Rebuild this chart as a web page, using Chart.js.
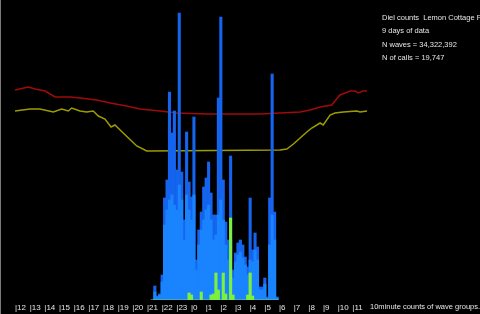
<!DOCTYPE html>
<html>
<head>
<meta charset="utf-8">
<script src="https://cdn.jsdelivr.net/npm/chart.js@4.4.1/dist/chart.umd.min.js"></script>
<style>
  html, body { margin: 0; padding: 0; background: #000; }
</style>
</head>
<body>
<canvas id="diel-chart" width="480" height="314"></canvas>
<script>
// hour ticks, one every 6 ten-minute bins, starting at noon
const hourLabels = ['|12', '|13', '|14', '|15', '|16', '|17', '|18', '|19', '|20', '|21', '|22', '|23',
                    '|0', '|1', '|2', '|3', '|4', '|5', '|6', '|7', '|8', '|9', '|10', '|11'];

// ten-minute bins with calls, bin 0 = 12:00
const firstBin = 56;
const darkBlue = [0, 14, 4, 6, 25, 102, 120, 208, 167, 189, 130, 287, 128, 80, 168, 118, 103, 183,
                  40, 70, 88, 113, 122, 138, 107, 85, 85, 202, 283, 120, 78, 60, 144, 30, 47, 57,
                  60, 55, 43, 33, 102, 50, 67, 53, 13, 13, 22, 3, 102, 226, 88, 3];
const lightBlue = [0, 8, 3, 5, 18, 75, 90, 100, 105, 95, 90, 115, 100, 60, 105, 90, 80, 105,
                   30, 55, 70, 80, 90, 95, 80, 60, 65, 85, 100, 80, 55, 40, 60, 22, 38, 45,
                   48, 42, 35, 25, 40, 38, 50, 40, 10, 10, 16, 2, 55, 85, 60, 2];
const green = [0, 0, 0, 0, 0, 0, 0, 0, 0, 0, 0, 0, 0, 0, 0, 7, 5, 0,
               0, 0, 8, 0, 0, 0, 5, 6, 27, 10, 0, 27, 6, 0, 82, 5, 0, 0,
               0, 0, 0, 5, 27, 4, 0, 0, 0, 0, 0, 0, 0, 0, 0, 0];

// background traces (bin position, value)
const redBins = [0, 5.4, 8.2, 12.3, 16.4, 22.5, 26.6, 33.4, 38.9, 45.7, 51.1, 59.3, 66.2, 78.4,
                 92.1, 100.2, 108.4, 116.6, 120.7, 124.8, 129.6, 132.9, 135, 137.1, 139.1, 140.5, 142.3, 144];
const redLine = [210, 213, 211, 209, 203, 203, 202, 200, 197, 194, 191, 189, 187, 186,
                 186, 186, 187, 188, 190, 193, 195, 205, 207, 209, 209, 207, 209, 209];
const yellowBins = [0, 6.1, 10.2, 15.7, 19.1, 21.8, 23.2, 26.6, 29.3, 32, 34.1, 36.8, 39.3, 40.9, 43,
                    46.4, 49.8, 53.9, 108.4, 111.2, 113.9, 118, 119.4, 121.4, 124.8, 126.1, 128.9,
                    130.9, 134.3, 139.8, 141.2, 144];
const yellowLine = [189, 191, 191, 188, 191, 189, 192, 189, 188, 189, 184, 181, 173, 175, 170,
                    162, 154, 149, 150, 151, 156, 165, 168, 172, 177, 175, 185,
                    187, 188, 189, 188, 189];

const infoLines = ['Diel counts  Lemon Cottage F', '9 days of data', 'N waves = 34,322,392', 'N of calls = 19,747'];
const footNote = '10minute counts of wave groups.';

const textFont = '"Liberation Sans", Arial, sans-serif';

// bars sit a little left of the bin start in the original
const toBars = arr => arr.map((v, k) => ({ x: firstBin + k + 0.2, y: v }));
const toLine = (xs, ys) => xs.map((x, i) => ({ x: x, y: ys[i] }));

const infoText = {
    id: 'infoText',
    afterDraw(chart) {
        const ctx = chart.ctx;
        ctx.save();
        ctx.fillStyle = '#e6e6e6';
        ctx.font = '7.5px ' + textFont;
        ctx.textBaseline = 'middle';
        infoLines.forEach((t, i) => ctx.fillText(t, 382, 18 + i * 13.4));
        ctx.fillText(footNote, 370, 307);
        ctx.strokeStyle = '#7a7a7a';
        ctx.lineWidth = 1;
        ctx.beginPath();
        ctx.moveTo(0.5, 0);
        ctx.lineTo(0.5, 314);
        ctx.stroke();
        ctx.restore();
    }
};

const ctx = document.getElementById('diel-chart');

new Chart(ctx, {
    type: 'bar',
    data: {
        datasets: [{
            type: 'bar',
            data: toBars(green),
            backgroundColor: '#7cf03c',
            grouped: false, barPercentage: 1, categoryPercentage: 1, borderWidth: 0,
            order: 0
        }, {
            type: 'bar',
            data: toBars(lightBlue),
            backgroundColor: '#1a84ff',
            grouped: false, barPercentage: 1, categoryPercentage: 1, borderWidth: 0,
            order: 1
        }, {
            type: 'bar',
            data: toBars(darkBlue),
            backgroundColor: '#1464ee',
            grouped: false, barPercentage: 1, categoryPercentage: 1, borderWidth: 0,
            order: 2
        }, {
            type: 'line',
            data: toLine(redBins, redLine),
            borderColor: '#a00a0a',
            borderWidth: 1.5,
            pointRadius: 0,
            yAxisID: 'yLine',
            order: 3
        }, {
            type: 'line',
            data: toLine(yellowBins, yellowLine),
            borderColor: '#9c9c00',
            borderWidth: 1.5,
            pointRadius: 0,
            yAxisID: 'yLine',
            order: 4
        }]
    },
    options: {
        responsive: false,
        animation: false,
        devicePixelRatio: 1,
        layout: { padding: { left: 15, right: 113, top: 0, bottom: 0 } },
        plugins: { legend: { display: false }, tooltip: { enabled: false } },
        scales: {
            x: {
                type: 'linear',
                offset: false,
                min: 0,
                max: 144,
                grid: { display: false, drawTicks: false },
                border: { display: false },
                afterBuildTicks: axis => { axis.ticks = hourLabels.map((_, i) => ({ value: i * 6 })); },
                afterFit: axis => { axis.height = 14; },
                ticks: {
                    autoSkip: false,
                    maxRotation: 0,
                    align: 'start',
                    padding: 3,
                    color: '#e6e6e6',
                    font: { family: textFont, size: 8 },
                    callback: v => hourLabels[v / 6] ?? ''
                }
            },
            y: { display: false, min: 0, max: 300 },
            yLine: { display: false, min: 0, max: 300 }
        }
    },
    plugins: [infoText]
});
</script>
</body>
</html>
